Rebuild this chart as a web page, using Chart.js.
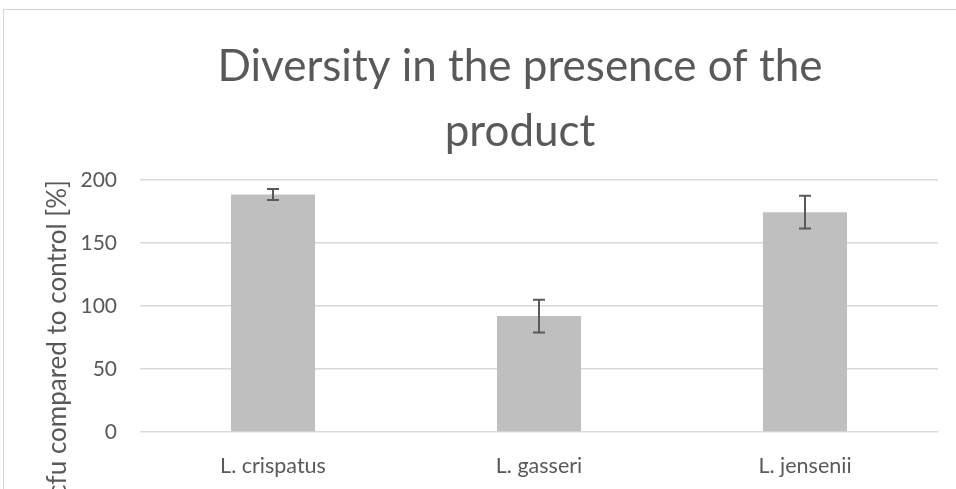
<!DOCTYPE html>
<html>
<head>
<meta charset="utf-8">
<script src="https://cdn.jsdelivr.net/npm/chart.js@4.4.1/dist/chart.umd.min.js"></script>
<style>
html,body{margin:0;padding:0;overflow:hidden;background:#fff;width:956px;height:489px;}
#frame{position:absolute;left:3px;top:9px;width:1032px;height:600px;border:1px solid #d4d4d4;}
canvas{position:absolute;left:0;top:0;}
</style>
</head>
<body>
<div id="frame"><canvas id="c" width="1032" height="479"></canvas></div>
<script>
const categories = ['L. crispatus', 'L. gasseri', 'L. jensenii'];
const values = [188.5, 92, 174.5];
const errors = [4.4, 13, 13];
const yTicks = [0, 50, 100, 150, 200];
const titleLines = ['Diversity in the presence of the', 'product'];
const yTitle = 'cfu compared to control [%]';

const TEXT = '#595959';
const FONT = 'Lato';

const errorBars = {
  id: 'errorBars',
  afterDatasetsDraw(chart) {
    const ctx = chart.ctx;
    const y = chart.scales.y;
    const meta = chart.getDatasetMeta(0);
    ctx.save();
    ctx.strokeStyle = '#595959';
    ctx.lineWidth = 2;
    meta.data.forEach((bar, i) => {
      const cx = Math.round(bar.x);
      const top = y.getPixelForValue(values[i] + errors[i]);
      const bot = y.getPixelForValue(values[i] - errors[i]);
      const half = 6;
      ctx.beginPath();
      ctx.moveTo(cx, top); ctx.lineTo(cx, bot);
      ctx.moveTo(cx - half, top); ctx.lineTo(cx + half, top);
      ctx.moveTo(cx - half, bot); ctx.lineTo(cx + half, bot);
      ctx.stroke();
    });
    ctx.restore();
  }
};

new Chart(document.getElementById('c'), {
  type: 'bar',
  data: {
    labels: categories,
    datasets: [{
      data: values,
      backgroundColor: '#BFBFBF',
      borderWidth: 0,
      categoryPercentage: 1,
      barPercentage: 0.316
    }]
  },
  options: {
    responsive: false,
    animation: false,
    layout: { padding: 0 },
    plugins: {
      legend: { display: false },
      tooltip: { enabled: false },
      title: {
        display: true,
        text: titleLines,
        color: TEXT,
        font: { family: FONT, size: 44, weight: 'normal', lineHeight: 65 / 44 },
        padding: { top: 24, bottom: 16 }
      }
    },
    scales: {
      x: {
        grid: { display: false },
        border: { display: false },
        ticks: { color: TEXT, font: { family: FONT, size: 21.5 }, padding: 13 },
        afterFit: s => { s.height = 57; }
      },
      y: {
        position: 'left',
        min: 0,
        max: 200,
        afterBuildTicks: s => { s.ticks = yTicks.map(v => ({ value: v })); },
        afterFit: s => { s.width = 136; },
        grid: { color: '#d9d9d9', lineWidth: 1.5, drawTicks: false },
        border: { display: false },
        ticks: { color: TEXT, font: { family: FONT, size: 21 }, padding: 23 },
        title: {
          display: true,
          text: yTitle,
          align: 'end',
          color: TEXT,
          font: { family: FONT, size: 26, lineHeight: 1.2 },
          padding: { top: 38, bottom: 0 }
        }
      },
      yR: {
        type: 'linear',
        axis: 'y',
        position: 'right',
        display: true,
        grid: { display: false },
        border: { display: false },
        ticks: { display: false },
        afterFit: s => { s.width = 98; }
      }
    }
  },
  plugins: [errorBars]
});
</script>
</body>
</html>
